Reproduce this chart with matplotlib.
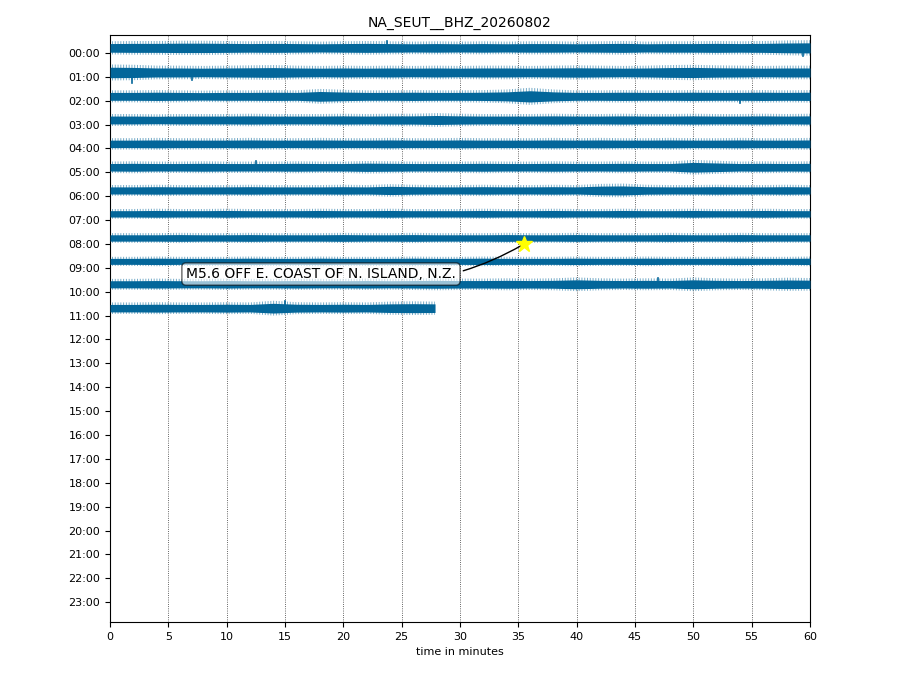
import matplotlib
matplotlib.use("Agg")
import matplotlib.pyplot as plt
import numpy as np

# ---------------- data ----------------
title = "NA_SEUT__BHZ_20260802"
hour_labels = ["00:00", "01:00", "02:00", "03:00", "04:00", "05:00", "06:00", "07:00",
               "08:00", "09:00", "10:00", "11:00", "12:00", "13:00", "14:00", "15:00",
               "16:00", "17:00", "18:00", "19:00", "20:00", "21:00", "22:00", "23:00"]
minute_ticks = [0, 5, 10, 15, 20, 25, 30, 35, 40, 45, 50, 55, 60]

# mean level of each hourly trace (in hour-row units, relative to its tick)
trace_mean = [-0.21, -0.18, -0.18, -0.19, -0.19, -0.21, -0.24, -0.26, -0.25, -0.27, -0.31, -0.31]
# minute at which each trace ends
trace_end = [60, 60, 60, 60, 60, 60, 60, 60, 60, 60, 60, 27.86]

# envelope half-amplitude of each trace (relative units), sampled every 2 minutes
amp = [
    [1.15, 1.2, 1.2, 1.25, 1.25, 1.2, 1.15, 1.2, 1.15, 1.1, 1.15, 1.2, 1.15, 1.1, 1.15, 1.1,
     1.15, 1.1, 1.15, 1.15, 1.1, 1.15, 1.2, 1.1, 1.15, 1.15, 1.2, 1.15, 1.2, 1.3, 1.35],
    [1.4, 1.35, 1.2, 1.2, 1.15, 1.2, 1.25, 1.3, 1.2, 1.15, 1.2, 1.15, 1.2, 1.15, 1.2, 1.15,
     1.2, 1.2, 1.15, 1.2, 1.25, 1.2, 1.15, 1.2, 1.3, 1.35, 1.25, 1.2, 1.15, 1.2, 1.2],
    [1.05, 1.05, 1.1, 1.05, 1.0, 1.05, 1.05, 1.1, 1.05, 1.3, 1.15, 1.05, 1.05, 1.1, 1.05, 1.05,
     1.1, 1.2, 1.5, 1.2, 1.05, 1.05, 1.1, 1.05, 1.05, 1.1, 1.05, 1.05, 1.1, 1.05, 1.1],
    [1.05, 1.05, 1.0, 1.05, 1.05, 1.05, 1.1, 1.05, 1.05, 1.05, 1.1, 1.05, 1.1, 1.1, 1.2, 1.1,
     1.05, 1.05, 1.05, 1.1, 1.05, 1.05, 1.1, 1.05, 1.05, 1.1, 1.05, 1.05, 1.1, 1.05, 1.1],
    [1.0, 1.0, 1.05, 1.0, 1.0, 1.0, 1.05, 1.0, 1.0, 1.05, 1.0, 1.0, 1.05, 1.0, 1.0, 1.05,
     1.0, 1.0, 1.0, 1.05, 1.0, 1.05, 1.0, 1.0, 1.05, 1.0, 1.0, 1.05, 1.0, 1.0, 1.05],
    [1.0, 1.05, 1.0, 1.0, 1.05, 1.0, 1.0, 1.0, 1.05, 1.0, 1.0, 1.1, 1.05, 1.0, 1.0, 1.0,
     1.05, 1.0, 1.0, 1.05, 1.0, 1.0, 1.05, 1.0, 1.0, 1.3, 1.15, 1.0, 1.05, 1.0, 1.05],
    [0.95, 0.95, 1.0, 0.95, 0.95, 0.95, 1.0, 0.95, 0.95, 0.95, 1.0, 0.95, 1.1, 1.0, 0.95, 0.95,
     1.0, 0.95, 0.95, 1.0, 0.95, 1.15, 1.2, 1.0, 0.95, 0.95, 1.0, 0.95, 0.95, 1.0, 0.95],
    [0.85, 0.85, 0.9, 0.85, 0.85, 0.9, 0.85, 0.85, 0.85, 0.9, 0.85, 0.85, 0.9, 0.85, 0.85, 0.85,
     0.9, 0.85, 0.85, 0.9, 0.85, 0.85, 0.9, 0.85, 0.85, 0.9, 0.85, 0.85, 0.9, 0.85, 0.85],
    [0.85, 0.85, 0.85, 0.9, 0.85, 0.85, 0.9, 0.85, 0.85, 0.85, 0.9, 0.85, 0.85, 0.9, 0.85, 0.85,
     0.85, 0.9, 0.85, 0.85, 0.9, 0.85, 0.85, 0.85, 0.9, 0.85, 0.85, 0.9, 0.85, 0.85, 0.85],
    [0.8, 0.8, 0.85, 0.8, 0.8, 0.8, 0.85, 0.8, 0.8, 0.85, 0.8, 0.8, 0.8, 0.85, 0.8, 0.8,
     0.85, 0.8, 0.8, 0.8, 0.85, 0.8, 0.8, 0.85, 0.8, 0.8, 0.8, 0.85, 0.8, 0.8, 0.85],
    [0.95, 0.95, 1.0, 0.95, 0.95, 1.0, 0.95, 0.95, 1.0, 0.95, 0.95, 1.0, 0.95, 1.0, 1.05, 1.0,
     1.0, 1.05, 1.0, 1.05, 1.2, 1.05, 1.0, 1.05, 1.0, 1.2, 1.05, 1.0, 1.05, 1.15, 1.1],
    [1.0, 1.0, 1.05, 1.0, 1.0, 1.05, 1.0, 1.3, 1.05, 1.0, 1.05, 1.0, 1.15, 1.2, 1.15],
]

# isolated spikes: trace index, minute, signed amplitude (relative units)
spike_trace = [0, 0, 1, 1, 2, 5, 10, 11]
spike_minute = [59.4, 23.7, 1.9, 7.0, 54.0, 12.5, 47.0, 15.0]
spike_amp = [-2.1, 1.8, -2.7, -2.0, -1.6, 1.6, 1.5, 1.8]

event_minute = 35.5
event_hour = 8.0
event_label = "M5.6 OFF E. COAST OF N. ISLAND, N.Z."

# ---------------- style ----------------
trace_color = "#03669A"
amp_scale = 0.165  # hour-rows per relative amplitude unit
plt.rcParams["hatch.linewidth"] = 0.7
plt.rcParams["hatch.color"] = trace_color

fig = plt.figure(figsize=(9.2, 6.9), dpi=100)
ax = fig.add_axes([0.1196, 0.0986, 0.7608, 0.8507])

for i, a in enumerate(amp):
    end = trace_end[i]
    xs = [2 * k for k in range(len(a)) if 2 * k < end]
    if xs[-1] < end:
        xs = xs + [end]
    xs = np.array(xs[:len(a)], dtype=float)
    a = np.array(a[:len(xs)], dtype=float) * amp_scale
    c = i + trace_mean[i]
    ax.fill_between(xs, c - 1.45 * a, c + 1.45 * a, facecolor="none", hatch="||||||",
                    edgecolor=trace_color, alpha=0.55, linewidth=0, zorder=2)
    ax.fill_between(xs, c - 0.95 * a, c + 0.95 * a, color=trace_color, linewidth=0, zorder=3)

for t, m, s in zip(spike_trace, spike_minute, spike_amp):
    c = t + trace_mean[t]
    ax.plot([m, m], [c, c - s * amp_scale], color=trace_color, lw=1.2, zorder=3)

ax.annotate(event_label, xy=(event_minute, event_hour), xytext=(29.65, 9.26),
            ha="right", va="center", fontsize=10,
            bbox=dict(boxstyle="round", fc="w", alpha=0.6),
            arrowprops=dict(arrowstyle="-", connectionstyle="arc3,rad=0.2", color="k"),
            zorder=10)
ax.plot(event_minute, event_hour, "*", color="yellow", markersize=12, zorder=11)

ax.set_xlim(0, 60)
ax.set_ylim(23.83, -0.75)
ax.set_xticks(minute_ticks)
ax.set_yticks(range(len(hour_labels)))
ax.set_yticklabels(hour_labels)
ax.tick_params(labelsize=8)
ax.xaxis.grid(True, linestyle=":", color="0.2", linewidth=0.6, zorder=1)
ax.set_axisbelow(True)
ax.set_xlabel("time in minutes", fontsize=8)
ax.set_title(title, fontsize=10)

fig.savefig("out.png", dpi=100)
